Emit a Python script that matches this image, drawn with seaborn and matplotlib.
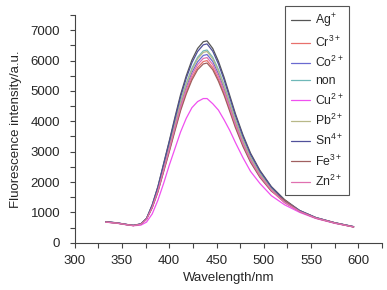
import matplotlib
matplotlib.use("Agg")
import matplotlib.pyplot as plt
import pandas as pd
import seaborn as sns
from matplotlib.ticker import MultipleLocator

# wavelength grid (nm)
wavelength = [333, 345, 355, 362, 370, 376, 382, 388, 394, 400, 406, 412, 418, 424, 430, 436,
              440, 446, 452, 458, 464, 470, 478, 486, 496, 508, 522, 538, 555, 575, 595]

# fluorescence intensity per ion
ag = [690, 650, 600, 570, 620, 800, 1250, 1850, 2600, 3350, 4130, 4880, 5500, 6020, 6400, 6620,
      6650, 6400, 5980, 5450, 4850, 4250, 3550, 2950, 2380, 1850, 1420, 1060, 830, 660, 530]
cr = [680, 645, 595, 565, 610, 780, 1160, 1690, 2360, 3030, 3730, 4400, 4960, 5430, 5770, 5970,
      6000, 5770, 5390, 4920, 4380, 3840, 3210, 2680, 2170, 1710, 1320, 1020, 810, 650, 520]
co = [690, 650, 600, 570, 615, 790, 1190, 1740, 2430, 3130, 3850, 4550, 5130, 5610, 5960, 6170,
      6200, 5970, 5570, 5080, 4520, 3960, 3310, 2760, 2230, 1750, 1340, 1040, 820, 655, 525]
non = [685, 648, 598, 568, 615, 790, 1210, 1780, 2490, 3200, 3950, 4660, 5250, 5750, 6110, 6320,
       6350, 6110, 5710, 5200, 4630, 4060, 3390, 2820, 2280, 1780, 1360, 1050, 825, 655, 525]
cu = [680, 640, 590, 560, 580, 680, 950, 1400, 1950, 2550, 3100, 3650, 4100, 4450, 4650, 4750,
      4750, 4580, 4370, 4050, 3700, 3300, 2800, 2350, 1950, 1550, 1250, 1000, 800, 640, 520]
pb = [690, 650, 600, 570, 615, 790, 1200, 1760, 2470, 3180, 3910, 4620, 5210, 5700, 6060, 6270,
      6300, 6060, 5660, 5160, 4590, 4020, 3360, 2800, 2260, 1770, 1380, 1050, 820, 655, 525]
sn = [695, 655, 602, 572, 620, 800, 1240, 1830, 2570, 3310, 4070, 4810, 5420, 5930, 6300, 6520,
      6550, 6310, 5890, 5370, 4780, 4190, 3500, 2910, 2350, 1830, 1390, 1060, 830, 660, 530]
fe = [685, 645, 595, 565, 610, 780, 1150, 1670, 2330, 2990, 3680, 4350, 4900, 5360, 5700, 5890,
      5920, 5700, 5320, 4860, 4330, 3790, 3170, 2650, 2150, 1700, 1400, 1030, 815, 650, 520]
zn = [680, 645, 595, 565, 605, 770, 1170, 1710, 2390, 3080, 3790, 4480, 5040, 5520, 5870, 6070,
      6100, 5870, 5480, 5000, 4450, 3900, 3260, 2720, 2200, 1730, 1330, 1030, 815, 650, 520]

ions = ["Ag$^{+}$", "Cr$^{3+}$", "Co$^{2+}$", "non", "Cu$^{2+}$",
        "Pb$^{2+}$", "Sn$^{4+}$", "Fe$^{3+}$", "Zn$^{2+}$"]
series = [ag, cr, co, non, cu, pb, sn, fe, zn]
colors = ["#555555", "#e8706c", "#6a6ad0", "#6fb8b8", "#f050f0",
          "#b8b888", "#50509a", "#a06060", "#e070b0"]

# long-form table for seaborn
rows = []
for ion, vals in zip(ions, series):
    for w, v in zip(wavelength, vals):
        rows.append({"Wavelength": w, "Intensity": v, "ion": ion})
df = pd.DataFrame(rows)

sns.set_style("ticks")
plt.rcParams["font.family"] = ["Liberation Sans", "DejaVu Sans"]
plt.rcParams["mathtext.default"] = "regular"

fig = plt.figure(figsize=(3.87, 2.90), dpi=100)
ax = fig.add_axes([0.193, 0.163, 0.794, 0.785])

sns.lineplot(data=df, x="Wavelength", y="Intensity", hue="ion", hue_order=ions,
             palette=dict(zip(ions, colors)), linewidth=0.9, ax=ax)

ax.set_xlim(300, 625)
ax.set_ylim(0, 7500)
ax.xaxis.set_minor_locator(MultipleLocator(25))
ax.yaxis.set_minor_locator(MultipleLocator(500))
ax.set_xticks([300, 350, 400, 450, 500, 550, 600])
ax.set_yticks([0, 1000, 2000, 3000, 4000, 5000, 6000, 7000])
ax.tick_params(which="both", length=3.5, width=0.8, color="#444444", labelsize=9.5)
ax.tick_params(axis="y", pad=7)
ax.tick_params(axis="x", pad=5)
for side in ["left", "bottom"]:
    ax.spines[side].set_color("#444444")
    ax.spines[side].set_linewidth(0.8)
sns.despine(ax=ax)

ax.set_xlabel("Wavelength/nm", fontsize=9.5, labelpad=4)
ax.set_ylabel("Fluorescence intensity/a.u.", fontsize=9.5, labelpad=6)

leg = ax.legend(loc="upper left", bbox_to_anchor=(285 / 387, 1 - 6 / 290),
                bbox_transform=fig.transFigure, frameon=True, fancybox=False,
                fontsize=8.8, handlelength=1.6, labelspacing=0.42, borderpad=0.45,
                handletextpad=0.4, borderaxespad=0)
leg.get_frame().set_edgecolor("#555555")
leg.get_frame().set_linewidth(0.8)
leg.get_frame().set_alpha(1)

fig.savefig("out.png", dpi=100)
